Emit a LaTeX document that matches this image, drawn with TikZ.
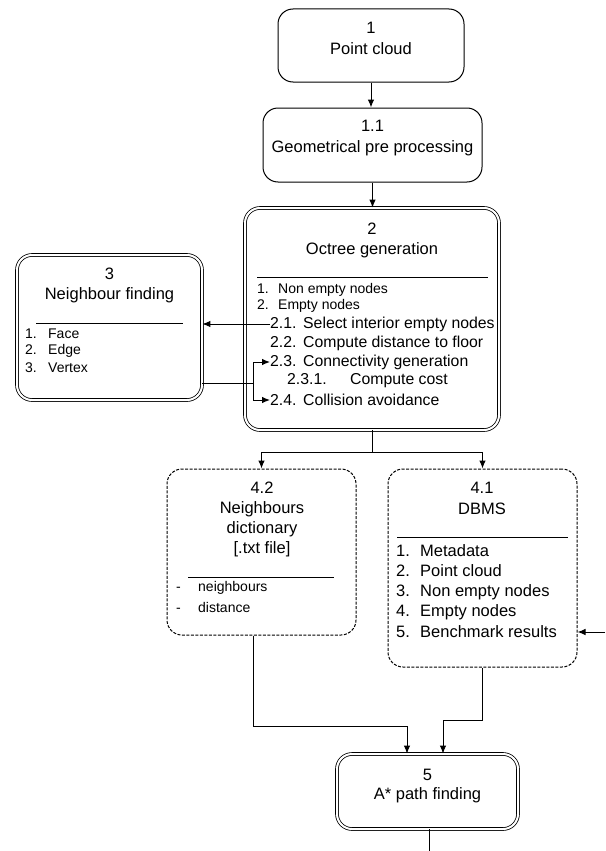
\documentclass[tikz,border=0pt]{standalone}
\usepackage{fontspec}
\setmainfont{Liberation Sans}
\usetikzlibrary{arrows.meta}
\begin{document}
\begin{tikzpicture}[x=1pt,y=-1pt,
  box/.style={draw, line width=1pt, rounded corners=15pt, inner sep=0pt},
  dbox/.style={draw, rounded corners=15pt, inner sep=0pt, double, double distance=2pt, line width=0.8pt},
  dashbox/.style={box, dash pattern=on 3pt off 1.5pt},
  ttl/.style={inner sep=0pt, font=\fontsize{16.5}{19}\selectfont},
  itS/.style={inner sep=0pt, anchor=west, font=\fontsize{14}{16}\selectfont},
  itM/.style={inner sep=0pt, anchor=west, font=\fontsize{15.8}{18}\selectfont},
  itL/.style={inner sep=0pt, anchor=west, font=\fontsize{16.5}{19}\selectfont},
  conn/.style={line width=1pt},
  arr/.style={conn, -{Latex[length=8pt,width=6.5pt]}},
  rulel/.style={line width=0.8pt}
]
\useasboundingbox (0,0) rectangle (605,851);

% boxes
\node[box, minimum width=186pt, minimum height=73pt] (b1) at (371,45.5) {};
\node[box, minimum width=219pt, minimum height=74pt] (b11) at (372.5,145) {};
\node[dbox, minimum width=254pt, minimum height=222pt] (b2) at (372,319) {};
\node[dbox, minimum width=185pt, minimum height=145pt] (b3) at (109.5,327.5) {};
\node[dashbox, minimum width=189pt, minimum height=166pt] (b42) at (261.5,552) {};
\node[dashbox, minimum width=189pt, minimum height=198pt] (b41) at (482.5,568) {};
\node[dbox, minimum width=181pt, minimum height=75pt] (b5) at (427.5,791.5) {};

% box 1
\node[ttl] (b1n) at (371,28) {1};
\node[ttl] (b1t) at (371,49) {Point cloud};
% box 1.1
\node[ttl] (b11n) at (372.5,126) {1.1};
\node[ttl] (b11t) at (372.5,148) {Geometrical pre processing};
% box 2
\node[ttl] (b2n) at (372,229) {2};
\node[ttl] (b2t) at (372,250) {Octree generation};
\draw[rulel] (257,277) -- (488,277);
\node[itS] (t1) at (257,290) {\makebox[21pt][l]{1.}Non empty nodes};
\node[itS] (t2) at (257,306) {\makebox[21pt][l]{2.}Empty nodes};
\node[itM] (t21) at (270,324) {\makebox[33pt][l]{2.1.}Select interior empty nodes};
\node[itM] (t22) at (270,343) {\makebox[33pt][l]{2.2.}Compute distance to floor};
\node[itM] (t23) at (270,362) {\makebox[33pt][l]{2.3.}Connectivity generation};
\node[itM] (t231) at (287,381) {\makebox[63pt][l]{2.3.1.}Compute cost};
\node[itM] (t24) at (270,400) {\makebox[33pt][l]{2.4.}Collision avoidance};
% box 3
\node[ttl] (b3n) at (109.5,274) {3};
\node[ttl] (b3t) at (109.5,295) {Neighbour finding};
\draw[rulel] (36,323) -- (183,323);
\node[itS] (f1) at (25,334) {\makebox[23pt][l]{1.}Face};
\node[itS] (f2) at (25,351) {\makebox[23pt][l]{2.}Edge};
\node[itS] (f3) at (25,368) {\makebox[23pt][l]{3.}Vertex};
% box 4.2
\node[ttl] (b42n) at (262,488) {4.2};
\node[ttl] (b42a) at (262,509) {Neighbours};
\node[ttl] (b42b) at (262,529) {dictionary};
\node[ttl] (b42c) at (262,549) {[.txt file]};
\draw[rulel] (188,577) -- (334,577);
\node[itS] (n1) at (176,588) {\makebox[22pt][l]{-}neighbours};
\node[itS] (n2) at (176,607) {\makebox[22pt][l]{-}distance};
% box 4.1
\node[ttl] (b41n) at (482,488) {4.1};
\node[ttl] (b41t) at (482,509) {DBMS};
\draw[rulel] (397,537) -- (568,537);
\node[itL] (d1) at (396,551) {\makebox[24pt][l]{1.}Metadata};
\node[itL] (d2) at (396,571) {\makebox[24pt][l]{2.}Point cloud};
\node[itL] (d3) at (396,592) {\makebox[24pt][l]{3.}Non empty nodes};
\node[itL] (d4) at (396,612) {\makebox[24pt][l]{4.}Empty nodes};
\node[itL] (d5) at (396,632) {\makebox[24pt][l]{5.}Benchmark results};
% box 5
\node[ttl] (b5n) at (427.5,775) {5};
\node[ttl] (b5t) at (427.5,795) {A* path finding};

% connectors
\draw[arr] (b1.south) -- (b1.south |- b11.north);
\draw[arr] (b11.south) -- (b11.south |- b2.north);
\draw[arr] (t21.west) -- (t21.west -| b3.east);
\coordinate (c3) at (253,383);
\draw[conn] (c3 -| b3.east) -- (c3);
\draw[arr] (c3) |- (t23.west);
\draw[arr] (c3) |- (t24.west);
\coordinate (j) at (372,452);
\draw[conn] (b2.south) -- (j);
\draw[arr] (j) -| (b42.north);
\draw[arr] (j) -| (b41.north);
\coordinate (r) at (605,632);
\draw[arr] (r) -- (r -| b41.east);
\coordinate (k1) at (407,726);
\coordinate (k2) at (443,720);
\draw[arr] ([xshift=-8.5pt]b42.south) |- (k1) -- (k1 |- b5.north);
\draw[arr] (b41.south) |- (k2) -- (k2 |- b5.north);
\coordinate (e5) at (429,851);
\draw[conn] (e5 |- b5.south) -- (e5);
\end{tikzpicture}
\end{document}
